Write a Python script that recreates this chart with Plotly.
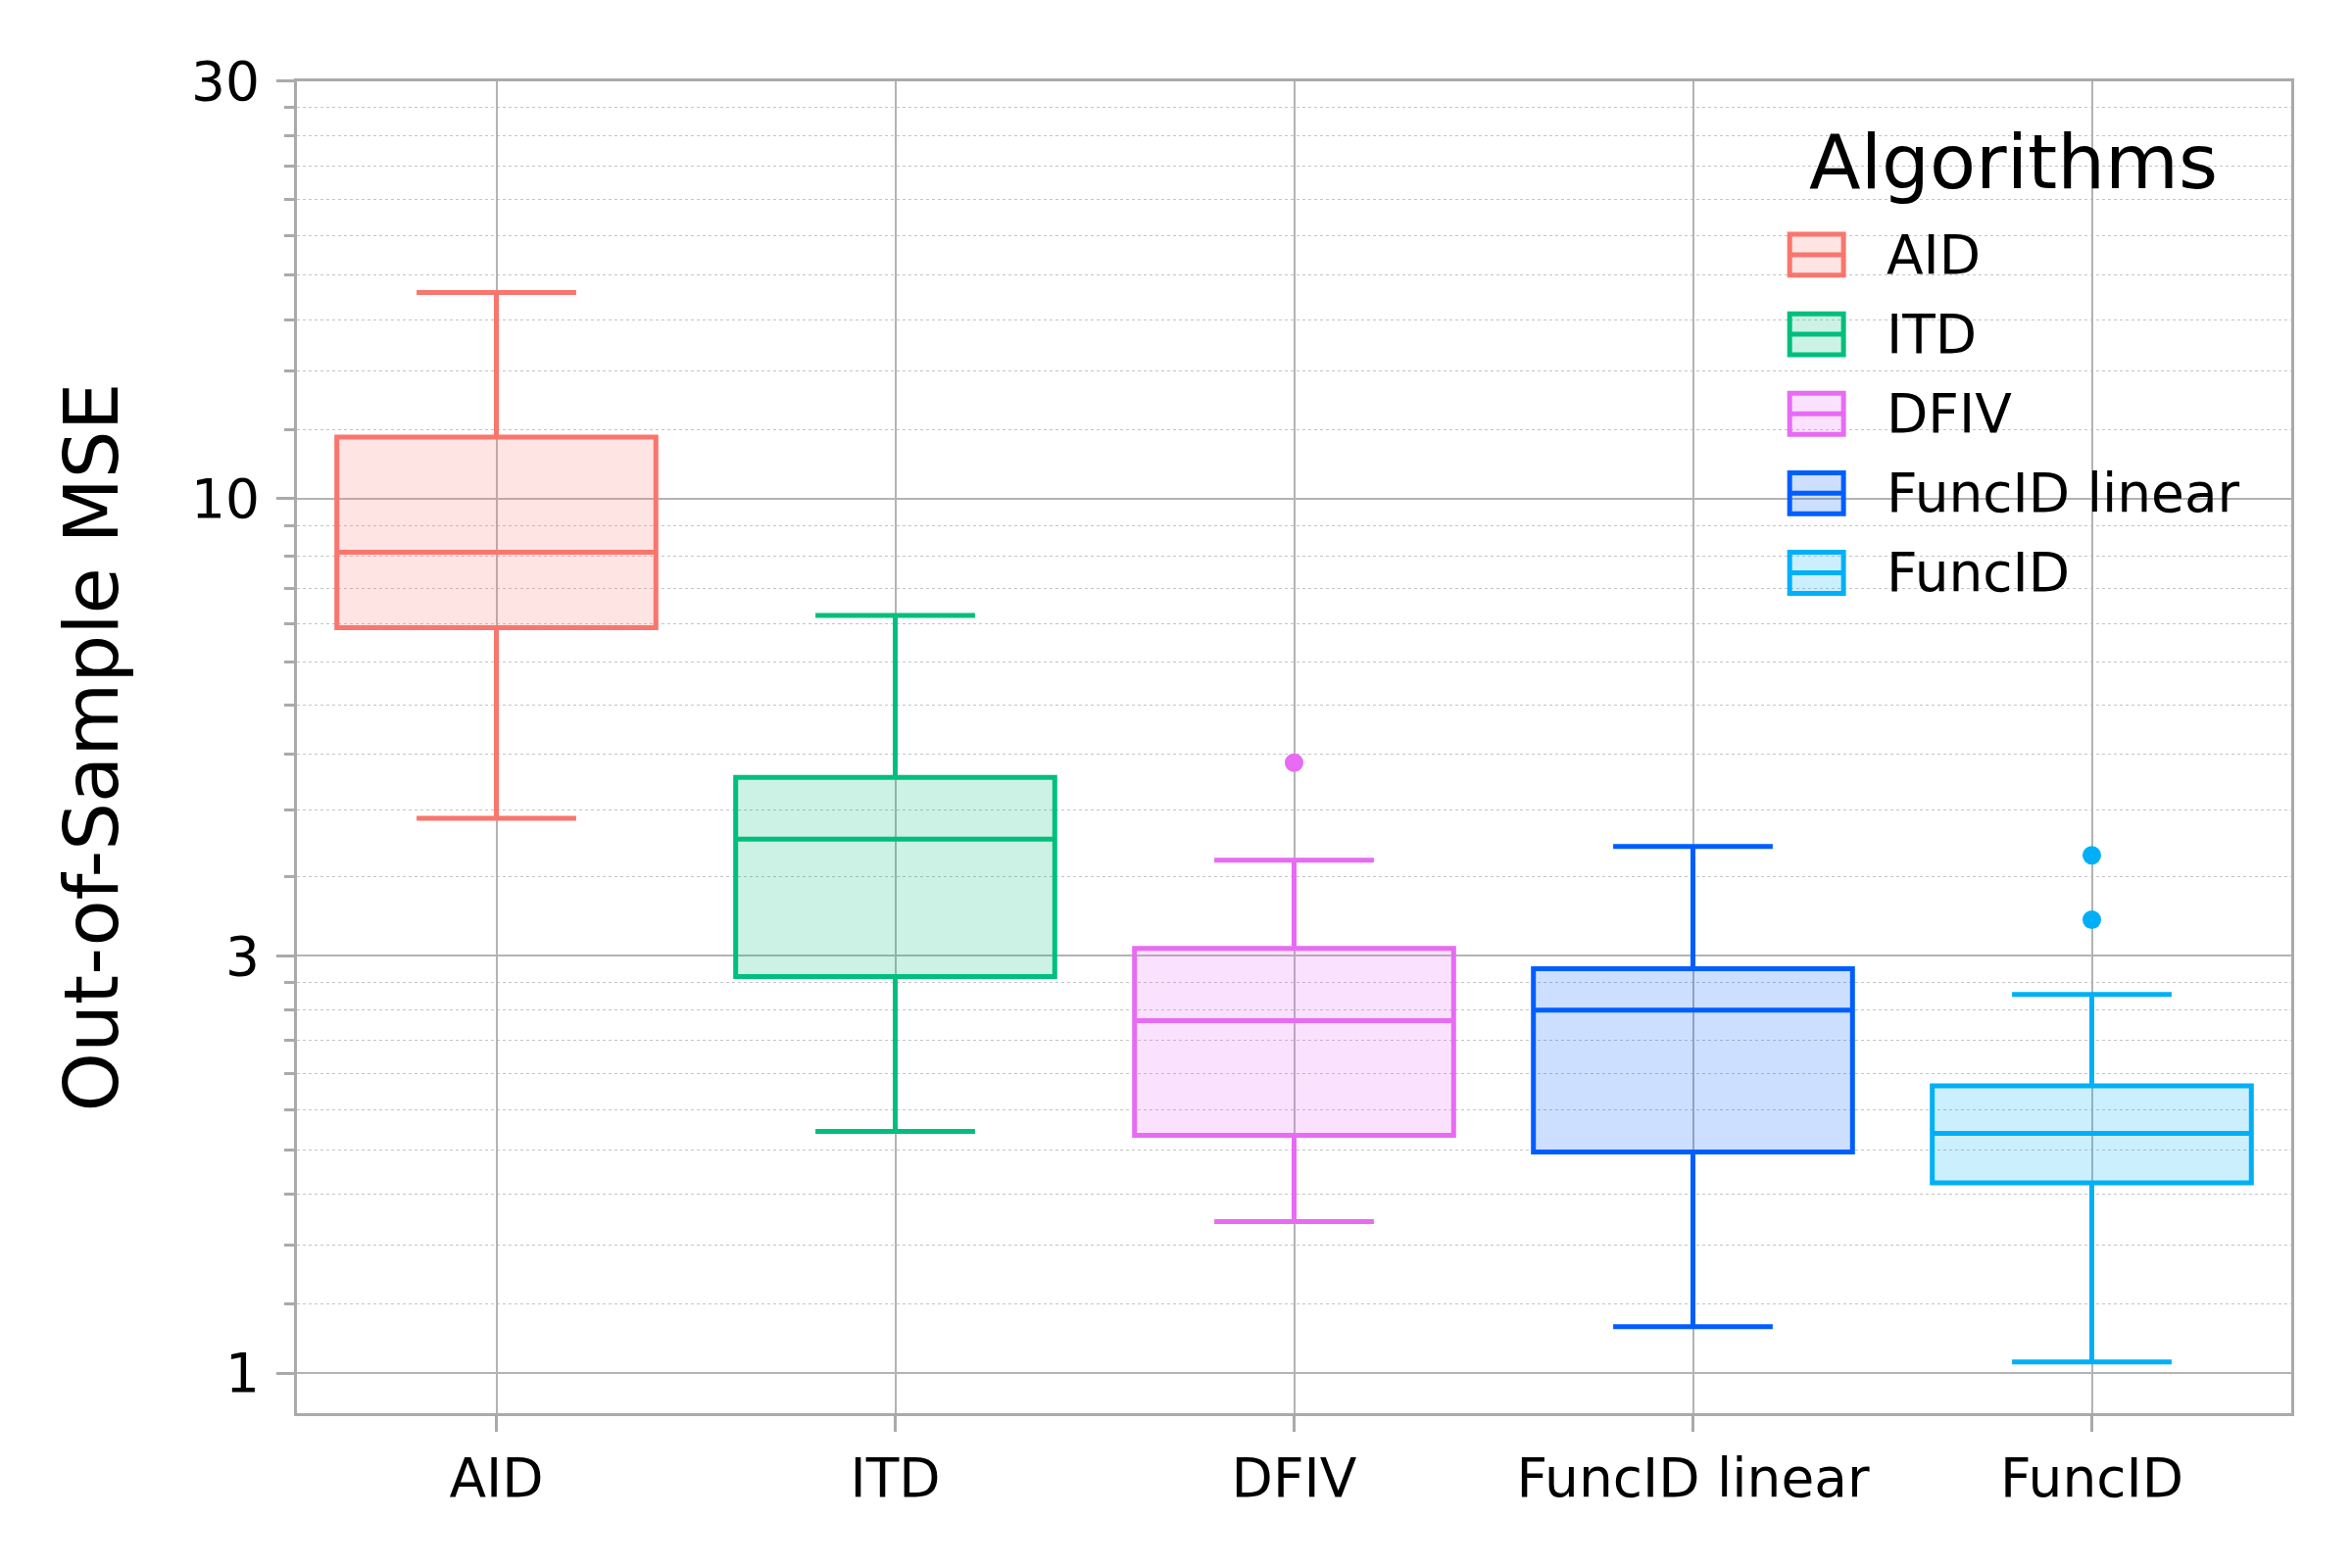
import plotly.graph_objects as go

# ---- data ----
algorithms = ["AID", "ITD", "DFIV", "FuncID linear", "FuncID"]
lower_whisker = [4.31, 1.89, 1.49, 1.13, 1.03]
q1_vals = [7.12, 2.84, 1.87, 1.79, 1.65]
median_vals = [8.68, 4.08, 2.53, 2.60, 1.88]
q3_vals = [11.76, 4.80, 3.06, 2.90, 2.13]
upper_whisker = [17.2, 7.35, 3.86, 4.00, 2.71]
outliers = [[], [], [4.99], [], [3.91, 3.30]]

colors = ["#F8766D", "#00BF7D", "#E76BF3", "#005EFF", "#00B0F6"]
fills = ["rgba(248,118,109,0.2)", "rgba(0,191,125,0.2)", "rgba(231,107,243,0.2)",
         "rgba(0,94,255,0.2)", "rgba(0,176,246,0.2)"]

major_ticks = [1, 3, 10, 30]
major_labels = ["1", "3", "10", "30"]
minor_ticks = [1.2, 1.4, 1.6, 1.8, 2.0, 2.2, 2.4, 2.6, 2.8,
               3.7, 4.4, 5.1, 5.8, 6.5, 7.2, 7.9, 8.6, 9.3,
               12, 14, 16, 18, 20, 22, 24, 26, 28]

FONT = "DejaVu Sans"
AXIS_GREY = "#aaaaaa"
LW = 5

fig = go.Figure()
for i, name in enumerate(algorithms):
    fig.add_trace(go.Box(
        x=[name], q1=[q1_vals[i]], median=[median_vals[i]], q3=[q3_vals[i]],
        lowerfence=[lower_whisker[i]], upperfence=[upper_whisker[i]],
        name=name, showlegend=False,
        line=dict(color=colors[i], width=LW),
        fillcolor=fills[i], whiskerwidth=0.5, width=0.8,
        boxpoints=False, hoverinfo="skip",
    ))
for i, name in enumerate(algorithms):
    if outliers[i]:
        fig.add_trace(go.Scatter(
            x=[name] * len(outliers[i]), y=outliers[i], mode="markers",
            marker=dict(color=colors[i], size=19, line=dict(width=0)),
            showlegend=False, hoverinfo="skip",
        ))

# ---- legend drawn as layout elements (paper coordinates) ----
leg_icon_x0, leg_icon_x1 = 0.7485, 0.7755
leg_text_x = 0.7960
leg_y0, leg_step, leg_half_h = 0.8698, 0.0597, 0.0154
shapes = []
annotations = [dict(text="Algorithms", xref="paper", yref="paper", x=0.8605, y=0.9395,
                    xanchor="center", yanchor="middle", showarrow=False,
                    font=dict(size=77, family=FONT, color="black"))]
for i, name in enumerate(algorithms):
    yc = leg_y0 - i * leg_step
    shapes.append(dict(type="rect", xref="paper", yref="paper",
                       x0=leg_icon_x0, x1=leg_icon_x1, y0=yc - leg_half_h, y1=yc + leg_half_h,
                       fillcolor=fills[i], line=dict(color=colors[i], width=LW)))
    shapes.append(dict(type="line", xref="paper", yref="paper",
                       x0=leg_icon_x0, x1=leg_icon_x1, y0=yc, y1=yc,
                       line=dict(color=colors[i], width=LW)))
    annotations.append(dict(text=name, xref="paper", yref="paper", x=leg_text_x, y=yc,
                            xanchor="left", yanchor="middle", showarrow=False,
                            font=dict(size=55, family=FONT, color="black")))

fig.update_layout(
    width=2400, height=1600,
    paper_bgcolor="white", plot_bgcolor="white",
    margin=dict(l=295, r=70, t=75, b=166),
    font=dict(family=FONT, size=55, color="black"),
    boxmode="overlay",
    showlegend=False,
    shapes=shapes,
    annotations=annotations,
    xaxis=dict(
        type="category", categoryorder="array", categoryarray=algorithms,
        range=[-0.5, 4.5],
        showgrid=True, gridcolor="#b3b3b3", gridwidth=2,
        showline=True, linecolor=AXIS_GREY, linewidth=3, mirror=True,
        ticks="outside", ticklen=16, tickwidth=3, tickcolor=AXIS_GREY,
        tickfont=dict(size=55, family=FONT),
        zeroline=False,
    ),
    yaxis=dict(
        type="log", range=[-0.0458, 1.4771],
        tickmode="array", tickvals=major_ticks, ticktext=major_labels,
        showgrid=True, gridcolor="#b3b3b3", gridwidth=2,
        showline=True, linecolor=AXIS_GREY, linewidth=3, mirror=True,
        ticks="outside", ticklen=18, tickwidth=3, tickcolor=AXIS_GREY,
        tickfont=dict(size=55, family=FONT),
        ticklabelstandoff=6,
        title=dict(text="Out-of-Sample MSE", font=dict(size=77, family=FONT), standoff=50),
        minor=dict(
            tickmode="array", tickvals=minor_ticks,
            ticks="outside", ticklen=10, tickwidth=3, tickcolor=AXIS_GREY,
            showgrid=True, gridcolor="#c4c4c4", gridwidth=1.2, griddash="dot",
        ),
        zeroline=False,
    ),
)

fig.write_html("out.html")
